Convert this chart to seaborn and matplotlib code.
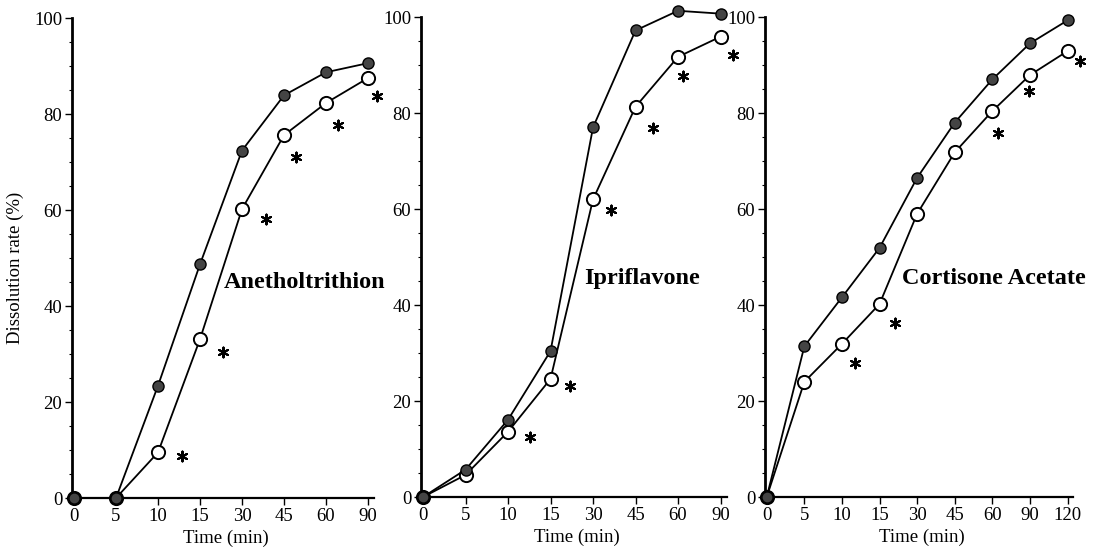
import matplotlib
matplotlib.use('Agg')
import matplotlib.pyplot as plt
from matplotlib.ticker import MultipleLocator
import seaborn as sns
import pandas as pd

# time points (min) - each panel uses evenly spaced categories
times_short = ['0', '5', '10', '15', '30', '45', '60', '90']
times_long = ['0', '5', '10', '15', '30', '45', '60', '90', '120']

# Anetholtrithion
aneth_filled = [0, 0, 23.4, 48.7, 72.4, 83.9, 88.7, 90.6]
aneth_open = [0, 0, 9.5, 33.1, 60.2, 75.6, 82.3, 87.5]
aneth_star_x = [2.57, 3.55, 4.56, 5.29, 6.28, 7.21]
aneth_star_y = [8.7, 30.4, 58.1, 71.0, 77.7, 83.8]

# Ipriflavone
ipri_filled = [0, 5.7, 16.1, 30.4, 77.0, 97.2, 101.3, 100.7]
ipri_open = [0, 4.6, 13.6, 24.6, 62.0, 81.3, 91.7, 95.9]
ipri_star_x = [2.52, 3.47, 4.42, 5.42, 6.11, 7.30]
ipri_star_y = [12.6, 23.1, 59.8, 76.8, 87.7, 92.0]

# Cortisone Acetate
cort_filled = [0, 31.4, 41.6, 51.9, 66.5, 78.0, 87.0, 94.5, 99.3]
cort_open = [0, 24.0, 31.9, 40.2, 59.0, 71.8, 80.4, 87.9, 92.9]
cort_star_x = [2.34, 3.40, 6.14, 6.97, 8.32]
cort_star_y = [27.9, 36.3, 75.9, 84.5, 90.9]

panels = [
    ('Anetholtrithion', times_short, aneth_filled, aneth_open,
     aneth_star_x, aneth_star_y, (3.57, 44.8)),
    ('Ipriflavone', times_short, ipri_filled, ipri_open,
     ipri_star_x, ipri_star_y, (3.79, 45.6)),
    ('Cortisone Acetate', times_long, cort_filled, cort_open,
     cort_star_x, cort_star_y, (3.59, 45.6)),
]

# axes boxes in figure fraction
boxes = [
    [0.0653, 0.1075, 0.2747, 0.8602],
    [0.3823, 0.1093, 0.2779, 0.8602],
    [0.6947, 0.1093, 0.2800, 0.8602],
]

sns.set_style('ticks')
plt.rcParams['font.family'] = ['Liberation Serif', 'DejaVu Serif']
plt.rcParams['text.color'] = 'black'
plt.rcParams['axes.labelcolor'] = 'black'
plt.rcParams['xtick.color'] = 'black'
plt.rcParams['ytick.color'] = 'black'

fig = plt.figure(figsize=(11.01, 5.58), dpi=100)

for i, (name, times, filled, opened, sx, sy, lab) in enumerate(panels):
    ax = fig.add_axes(boxes[i])
    df = pd.DataFrame({'idx': range(len(times)), 'filled': filled, 'open': opened})

    # open circles first so filled series sits on top
    sns.lineplot(data=df, x='idx', y='open', ax=ax, color='black', lw=1.3,
                 marker='o', markersize=9.5, markerfacecolor='white',
                 markeredgecolor='black', markeredgewidth=1.4, clip_on=False,
                 zorder=3)
    sns.lineplot(data=df, x='idx', y='filled', ax=ax, color='black', lw=1.3,
                 marker='o', markersize=8, markerfacecolor='#444444',
                 markeredgecolor='black', markeredgewidth=1.0, clip_on=False,
                 zorder=4)
    # significance asterisks
    sns.scatterplot(x=sx, y=sy, ax=ax, marker=(6, 2, 0), s=50, color='black',
                    linewidth=1.5, clip_on=False, zorder=5)

    ax.text(lab[0], lab[1], name, fontsize=17.5, fontweight='bold',
            ha='left', va='center')

    ax.set_xlim(-0.05, len(times) - 1 + 0.15)
    ax.set_ylim(0, 100)
    ax.set_xticks(range(len(times)))
    ax.set_xticklabels(times)
    ax.yaxis.set_major_locator(MultipleLocator(20))
    ax.yaxis.set_minor_locator(MultipleLocator(5))
    ax.tick_params(axis='both', which='major', labelsize=13.5, length=5,
                   width=1.0, color='black', pad=2)
    ax.tick_params(axis='y', which='minor', length=2.5, width=0.8)
    for s in ['top', 'right']:
        ax.spines[s].set_visible(False)
    ax.spines['left'].set_linewidth(2.0)
    ax.spines['bottom'].set_linewidth(1.6)
    ax.spines['left'].set_color('black')
    ax.spines['bottom'].set_color('black')

    ax.set_xlabel('Time (min)', fontsize=13.5)
    ax.xaxis.set_label_coords(0.51, -0.065)
    if i == 0:
        ax.set_ylabel('Dissolution rate (%)', fontsize=13.5)
        ax.yaxis.set_label_coords(-0.16, 0.48)
    else:
        ax.set_ylabel('')

fig.savefig('out.png', dpi=100, facecolor='white')
